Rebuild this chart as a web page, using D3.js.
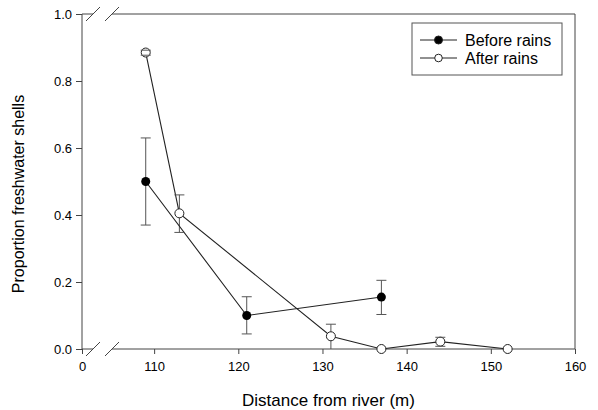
<!DOCTYPE html>
<html>
<head>
<meta charset="utf-8">
<script src="https://cdn.jsdelivr.net/npm/d3@7"></script>
<style>
    body { margin: 0; background: #fff; }
    text { font-family: "Liberation Sans", Arial, sans-serif; fill: #000; }
</style>
</head>
<body>
<div id="chart"></div>
<script>

// data
const beforeX = [109, 121, 137];
const beforeY = [0.50, 0.10, 0.155];
const beforeLo = [0.37, 0.045, 0.103];
const beforeHi = [0.63, 0.156, 0.205];

const afterX = [109, 113, 131, 137, 144, 152];
const afterY = [0.885, 0.405, 0.038, 0, 0.022, 0];
const afterLo = [0.877, 0.348, 0, 0, 0.008, 0];
const afterHi = [0.892, 0.46, 0.074, 0, 0.035, 0];

const xTicks = [110, 120, 130, 140, 150, 160];
const yTicks = [0, 0.2, 0.4, 0.6, 0.8, 1.0];
const seriesNames = ["Before rains", "After rains"];

// broken x axis: left end is labelled 0
const xStart = 101.43;

let margin = { top: 14, right: 23, bottom: 61, left: 82 };
let width = 598 - margin.left - margin.right;
let height = 410 - margin.top - margin.bottom;

let svg = d3.select("#chart").append("svg")
    .attr("width", 598)
    .attr("height", 410)
    .append("g")
    .attr("transform", "translate(" + margin.left + "," + margin.top + ")");

let x = d3.scaleLinear().domain([xStart, 160]).range([0, width]);
let y = d3.scaleLinear().domain([0, 1]).range([height, 0]);

let axisColor = "#444";

// axes
let xAxis = d3.axisBottom(x)
    .tickValues([xStart].concat(xTicks))
    .tickFormat(d => d === xStart ? "0" : d3.format("d")(d))
    .tickSizeInner(5).tickSizeOuter(0);

let yAxis = d3.axisLeft(y)
    .tickValues(yTicks)
    .tickFormat(d3.format(".1f"))
    .tickSizeInner(6).tickSizeOuter(0);

let gx = svg.append("g")
    .attr("transform", "translate(0," + height + ")")
    .call(xAxis);
gx.select(".domain").remove();
gx.selectAll("line").attr("stroke", axisColor);
gx.selectAll("text").attr("font-size", 13).attr("dy", "1.05em").attr("font-family", "Liberation Sans, Arial, sans-serif");

let gy = svg.append("g").call(yAxis);
gy.select(".domain").remove();
gy.selectAll("line").attr("stroke", axisColor);
gy.selectAll("text").attr("font-size", 13).attr("x", -10).attr("font-family", "Liberation Sans, Arial, sans-serif");

// frame with break marks on top and bottom lines
let gapA = 11, gapB = 30;
[0, height].forEach(yy => {
    svg.append("line").attr("x1", 0).attr("x2", gapA).attr("y1", yy).attr("y2", yy)
        .attr("stroke", axisColor);
    svg.append("line").attr("x1", gapB).attr("x2", width).attr("y1", yy).attr("y2", yy)
        .attr("stroke", axisColor);
    [gapA, gapB].forEach(gx0 => {
        svg.append("line")
            .attr("x1", gx0 - 7).attr("y1", yy + 7)
            .attr("x2", gx0 + 7).attr("y2", yy - 7)
            .attr("stroke", axisColor);
    });
});
svg.append("line").attr("x1", 0).attr("x2", 0).attr("y1", 0).attr("y2", height).attr("stroke", axisColor);
svg.append("line").attr("x1", width).attr("x2", width).attr("y1", 0).attr("y2", height).attr("stroke", axisColor);

// axis titles
svg.append("text")
    .attr("x", width / 2)
    .attr("y", height + 57)
    .attr("text-anchor", "middle")
    .attr("font-size", 17)
    .text("Distance from river (m)");

svg.append("text")
    .attr("transform", "rotate(-90)")
    .attr("x", -180)
    .attr("y", -58)
    .attr("text-anchor", "middle")
    .attr("font-size", 16)
    .text("Proportion freshwater shells");

let before = beforeX.map((d, i) => ({ x: d, y: beforeY[i], lo: beforeLo[i], hi: beforeHi[i] }));
let after = afterX.map((d, i) => ({ x: d, y: afterY[i], lo: afterLo[i], hi: afterHi[i] }));
let all = before.concat(after).filter(d => d.hi > d.lo);

// error bar stems
let capW = 5;
svg.selectAll(".err-stem")
    .data(all)
    .enter()
    .append("line")
    .attr("class", "err-stem")
    .attr("x1", d => x(d.x)).attr("x2", d => x(d.x))
    .attr("y1", d => y(d.lo)).attr("y2", d => y(d.hi))
    .attr("stroke", "#555");

const line = d3.line()
    .x(d => x(d.x))
    .y(d => y(d.y));

[before, after].forEach(series => {
    svg.append("path")
        .attr("d", line(series))
        .attr("fill", "none")
        .attr("stroke", "#222")
        .attr("stroke-width", 1.1);
});

svg.selectAll(".before-pt")
    .data(before)
    .enter()
    .append("circle")
    .attr("class", "before-pt")
    .attr("cx", d => x(d.x))
    .attr("cy", d => y(d.y))
    .attr("r", 4.5)
    .attr("fill", "#000");

svg.selectAll(".after-pt")
    .data(after)
    .enter()
    .append("circle")
    .attr("class", "after-pt")
    .attr("cx", d => x(d.x))
    .attr("cy", d => y(d.y))
    .attr("r", 4.5)
    .attr("fill", "#fff")
    .attr("stroke", "#222");

// caps drawn over the markers
let caps = [];
all.forEach(d => {
    if (d.lo > 0) caps.push({ x: d.x, v: d.lo });
    caps.push({ x: d.x, v: d.hi });
});
svg.selectAll(".err-cap")
    .data(caps)
    .enter()
    .append("line")
    .attr("class", "err-cap")
    .attr("x1", d => x(d.x) - capW).attr("x2", d => x(d.x) + capW)
    .attr("y1", d => y(d.v)).attr("y2", d => y(d.v))
    .attr("stroke", "#555");

// legend
let legend = svg.append("g").attr("transform", "translate(" + (412 - margin.left) + "," + (23 - margin.top) + ")");
legend.append("rect")
    .attr("width", 150)
    .attr("height", 52)
    .attr("fill", "#fff")
    .attr("stroke", "#555");

seriesNames.forEach((name, i) => {
    let ly = 17 + i * 18;
    legend.append("line")
        .attr("x1", 8).attr("x2", 45)
        .attr("y1", ly).attr("y2", ly)
        .attr("stroke", "#222");
    legend.append("circle")
        .attr("cx", 26.5).attr("cy", ly)
        .attr("r", i === 0 ? 4 : 3.8)
        .attr("fill", i === 0 ? "#000" : "#fff")
        .attr("stroke", "#222");
    legend.append("text")
        .attr("x", 53)
        .attr("y", ly + 5.5)
        .attr("font-size", 16)
        .text(name);
});

</script>
</body>
</html>
